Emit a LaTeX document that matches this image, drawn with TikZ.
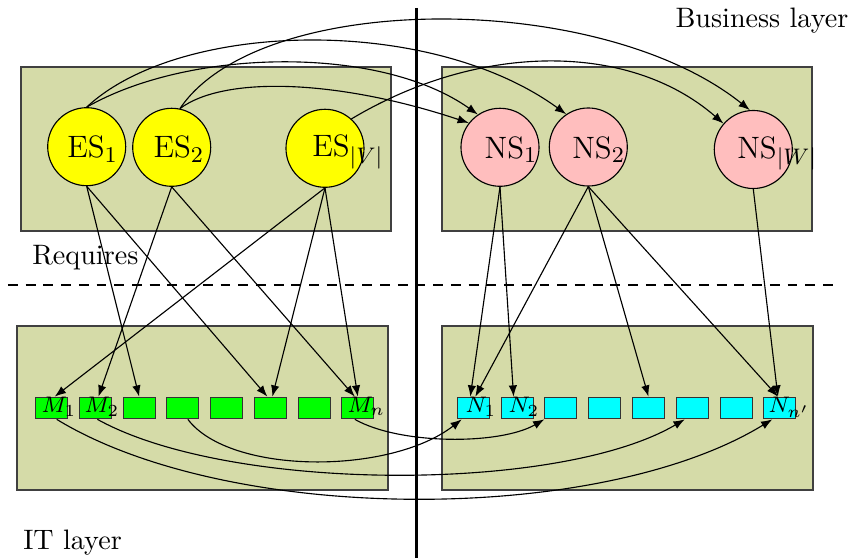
\documentclass[tikz,border=0pt]{standalone}
\usepackage{amsmath, amssymb}
\usepackage{xcolor}
\usepackage{tikz}
\usetikzlibrary{arrows.meta, calc}

\definecolor{layerbg}{RGB}{213,219,168}
\definecolor{esyellow}{RGB}{255,255,0}
\definecolor{nspink}{RGB}{255,190,190}
\definecolor{mgreen}{RGB}{0,255,0}
\definecolor{ncyan}{RGB}{0,255,255}

\begin{document}
\begin{tikzpicture}[
    x=0.0125cm, y=-0.0125cm,
    layer/.style={draw=black!75, fill=layerbg},
    service/.style={circle, draw, minimum size=0.975cm, inner sep=0pt},
    es/.style={service, fill=esyellow},
    ns/.style={service, fill=nspink},
    module/.style={rectangle, draw=black!80, minimum width=0.4cm,
                   minimum height=0.27cm, inner sep=0pt},
    svcname/.style={anchor=base west, inner sep=0pt,
                    font=\fontsize{11}{13}\selectfont},
    modname/.style={anchor=base west, inner sep=0pt, font=\fontsize{8.5}{10}\selectfont},
    caption/.style={anchor=base west, inner sep=0pt},
    arrow/.style={-{Latex[length=4pt,width=3pt]}, thin},
]
\useasboundingbox (0,0) rectangle (857,558);

% layer backgrounds
\draw[layer] (21,67) rectangle (391,231);
\draw[layer] (442,67) rectangle (812,231);
\draw[layer] (17,326) rectangle (388,490);
\draw[layer] (442,326) rectangle (813,490);

\draw[line width=1pt] (416.5,8) -- (416.5,558);
\draw[line width=0.7pt, dash pattern=on 3.5pt off 2.8pt] (8,285) -- (833,285);

\node[caption] (business) at (675,28) {Business layer};
\node[caption] (requires) at (31.7,265) {Requires};
\node[caption] (itlayer) at (22.7,550) {IT layer};

% services
\node[es] (es1) at (86.7,146.7) {};
\node[es] (es2) at (171.7,147.3) {};
\node[es] (esv) at (325,148.3) {};
\node[ns] (ns1) at (500,147.3) {};
\node[ns] (ns2) at (588.3,147) {};
\node[ns] (nsw) at (753.3,149.5) {};

\node[svcname] (es1name) at (66.7,158) {ES$_1$};
\node[svcname] (es2name) at (153,158) {ES$_2$};
\node[svcname] (esvname) at (311.7,157) {ES$_{|V|}$};
\node[svcname] (ns1name) at (484,158.3) {NS$_1$};
\node[svcname] (ns2name) at (571.7,158.3) {NS$_2$};
\node[svcname] (nswname) at (736.7,158.3) {NS$_{|W|}$};

% modules and nodes
\foreach \i in {1,...,8} {
    \node[module, fill=mgreen] (m\i) at ({51.7+43.73*(\i-1)},408) {};
    \node[module, fill=ncyan] (n\i) at ({473.3+43.8*(\i-1)},408) {};
}

\node[modname] (m1name) at (41,413) {$M_1$};
\node[modname] (m2name) at (84,413) {$M_2$};
\node[modname] (mnname) at (347,413) {$M_n$};
\node[modname] (n1name) at (465,413) {$N_1$};
\node[modname] (n2name) at (508,413) {$N_2$};
\node[modname] (nnname) at (768,413) {$N_{n'}$};

% ES -> NS
\draw[arrow] (es1.north) .. controls (190,48) and (380,45) .. (ns1.124);
\draw[arrow] (es1.north) .. controls (180,20) and (430,15) .. (ns2.124);
\draw[arrow] (es2.78) .. controls (225,75) and (340,80) .. (ns1.142);
\draw[arrow] (es2.78) .. controls (260,-10) and (600,-10) .. (nsw.95);
\draw[arrow] (esv.48) .. controls (480,42) and (630,42) .. (nsw.139);

% ES -> M
\draw[arrow] (es1.south) -- (m3.north);
\draw[arrow] (es1.south) -- ($(m6.north)+(-3,0)$);
\draw[arrow] (es2.south) -- ($(m2.north)+(3,0)$);
\draw[arrow] (es2.south) -- ($(m8.north)+(-3,0)$);
\draw[arrow] (esv.south) -- ($(m1.north)+(3,0)$);
\draw[arrow] (esv.south) -- ($(m6.north)+(2,0)$);
\draw[arrow] (esv.south) -- (m8.north);

% NS -> N
\draw[arrow] (ns1.south) -- ($(n1.north)+(-3,0)$);
\draw[arrow] (ns1.south) -- ($(n2.north)+(-3.5,0)$);
\draw[arrow] (ns2.south) -- ($(n1.north)+(2,0)$);
\draw[arrow] (ns2.south) -- (n5.north);
\draw[arrow] (ns2.south) -- ($(n8.north)+(-2,0)$);
\draw[arrow] (nsw.south) -- ($(n8.north)+(-2,0)$);

% M -> N
\draw[arrow] ($(m1.south)+(5,0)$) .. controls (230,525) and (600,525) .. ($(n8.south west)+(9,0)$);
\draw[arrow] ($(m2.south)+(2,0)$) .. controls (230,493) and (560,493) .. ($(n6.south west)+(9,0)$);
\draw[arrow] ($(m4.south)+(5,0)$) .. controls (230,475) and (390,475) .. ($(n1.south west)+(5,0)$);
\draw[arrow] ($(m8.south)+(-3,0)$) .. controls (400,445) and (500,445) .. (n3.south west);
\end{tikzpicture}
\end{document}
